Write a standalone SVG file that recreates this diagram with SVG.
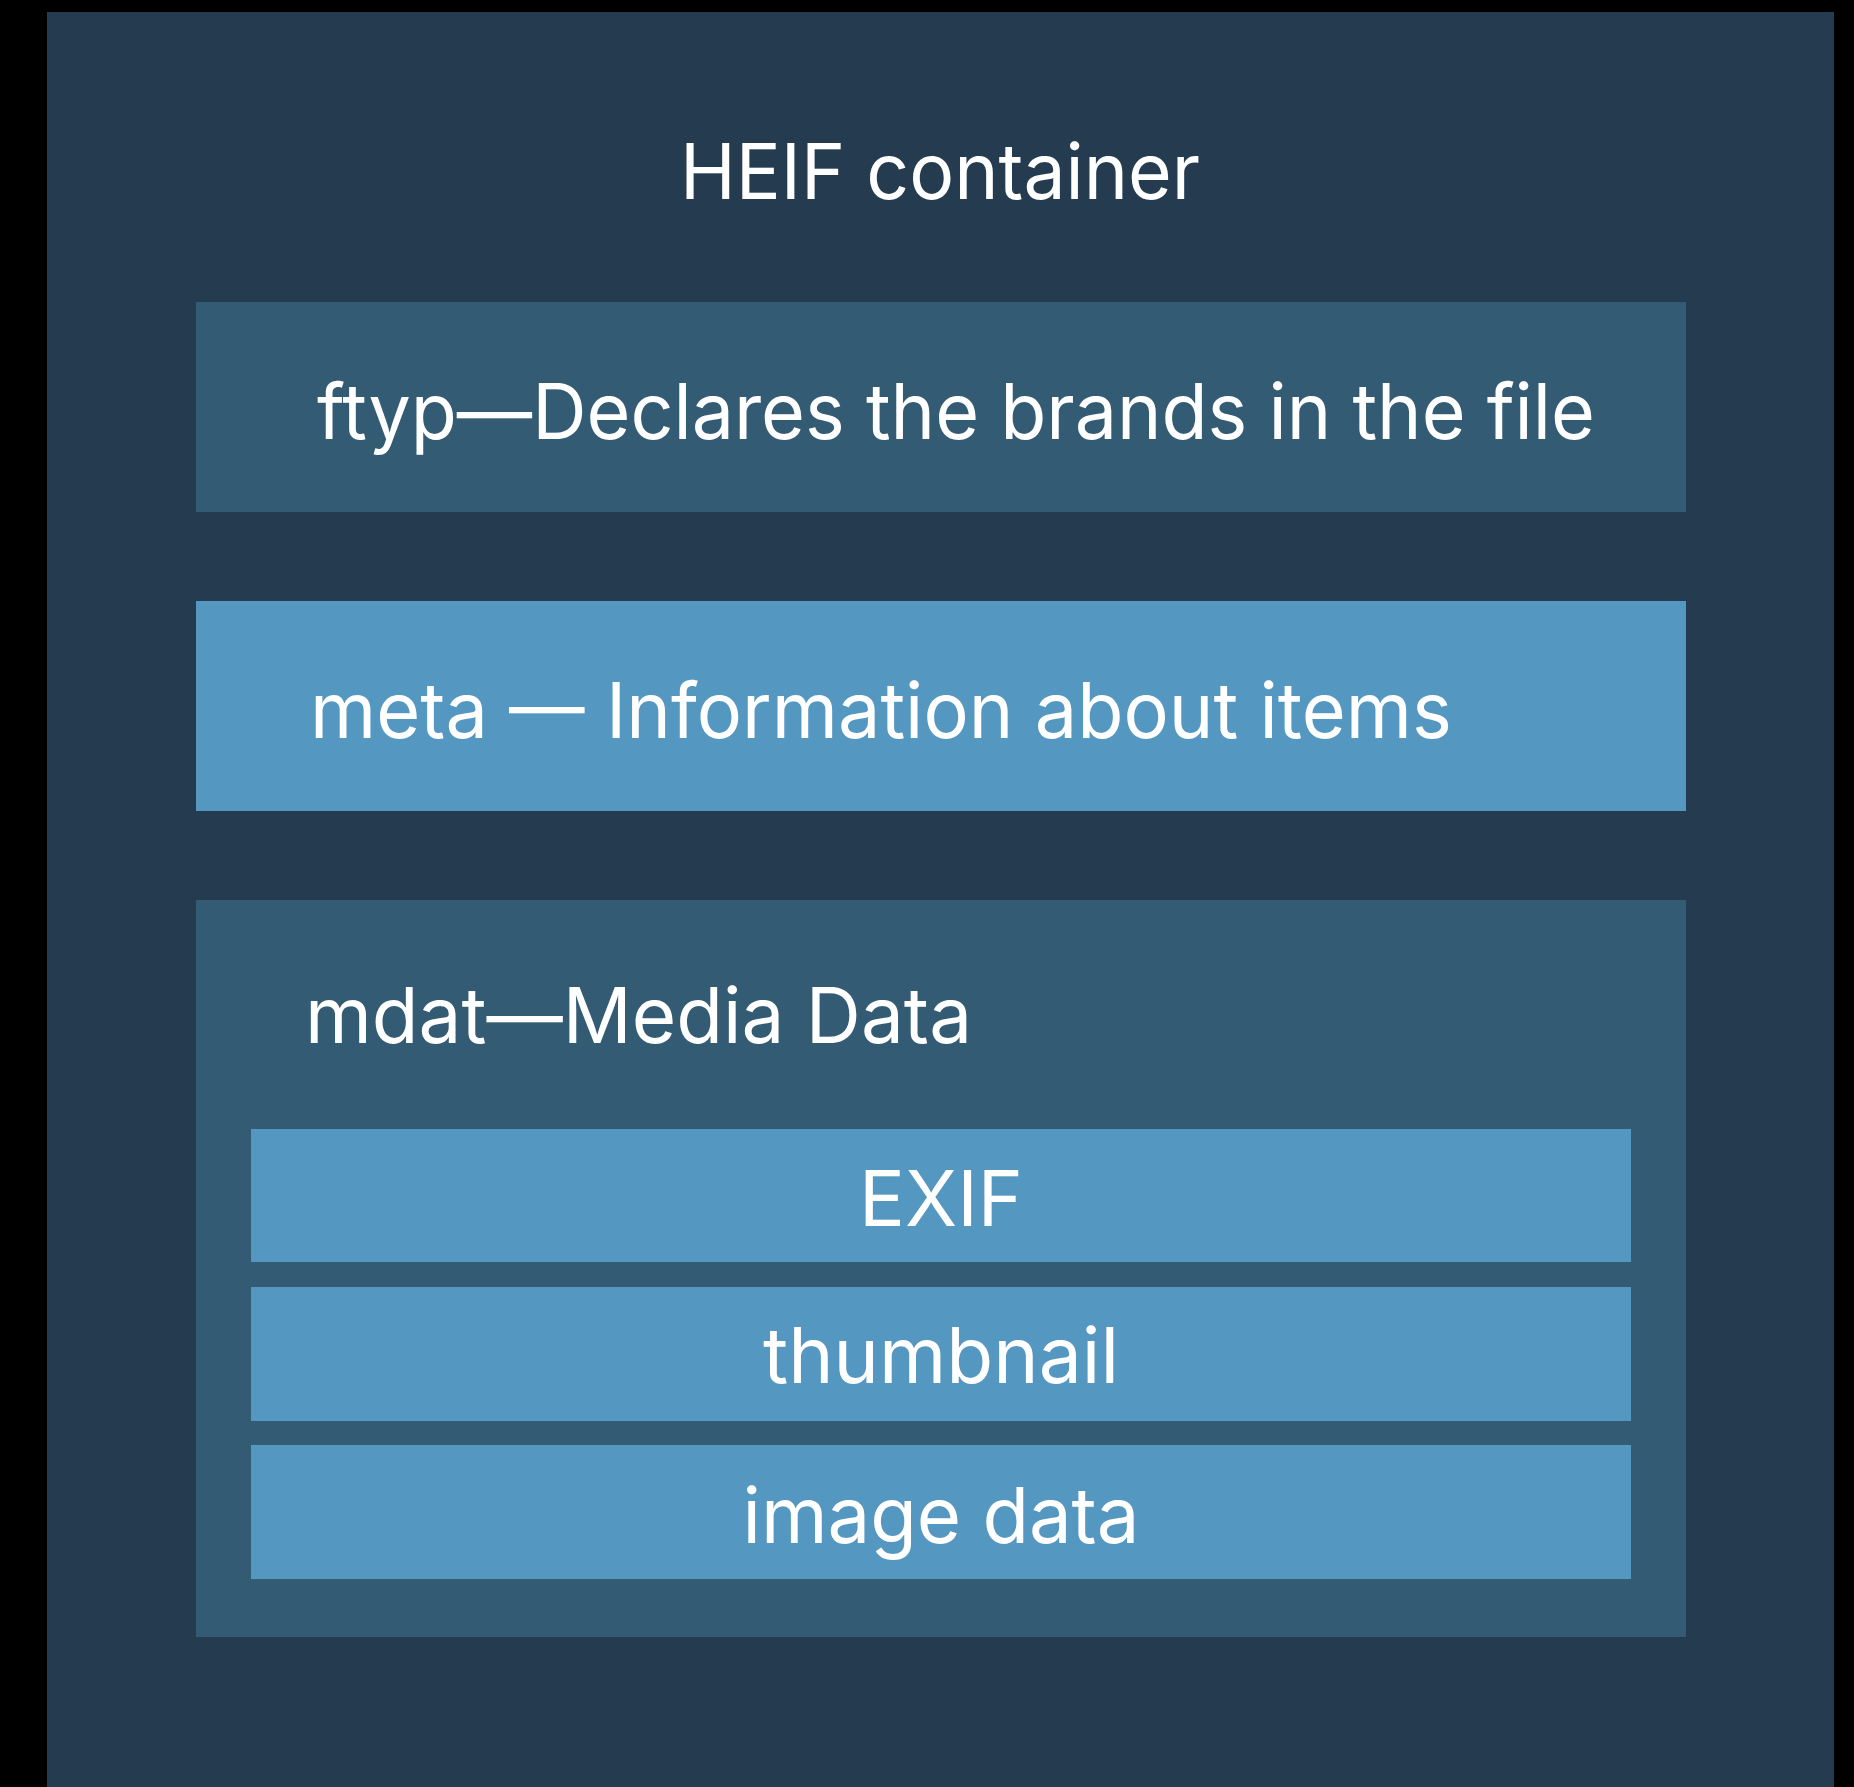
<svg xmlns="http://www.w3.org/2000/svg" width="1854" height="1787" viewBox="0 0 1854 1787">
<style>
.bg{fill:#000}
.outer{fill:#243b50}
.mid{fill:#345b74}
.light{fill:#5497c1}
text{font-family:Inter,"Liberation Sans",sans-serif;fill:#fff;font-size:77px}
.c{text-anchor:middle}
</style>
<rect class="bg" x="0" y="0" width="1854" height="1787"/>
<g id="heif-container">
<rect class="outer" x="47" y="12" width="1787" height="1775"/>
<text class="c" x="940" y="199" textLength="520" lengthAdjust="spacingAndGlyphs">HEIF container</text>
</g>
<g id="ftyp">
<rect class="mid" x="196" y="302" width="1490" height="210"/>
<text x="317" y="439" textLength="1278" lengthAdjust="spacingAndGlyphs">ftyp—Declares the brands in the file</text>
</g>
<g id="meta">
<rect class="light" x="196" y="601" width="1490" height="210"/>
<text x="310" y="738" textLength="1142" lengthAdjust="spacingAndGlyphs">meta — Information about items</text>
</g>
<g id="mdat">
<rect class="mid" x="196" y="900" width="1490" height="737"/>
<text x="305" y="1043" textLength="667" lengthAdjust="spacingAndGlyphs">mdat—Media Data</text>
</g>
<g id="exif">
<rect class="light" x="251" y="1129" width="1380" height="133"/>
<text class="c" x="941" y="1226" textLength="164" lengthAdjust="spacingAndGlyphs">EXIF</text>
</g>
<g id="thumbnail">
<rect class="light" x="251" y="1287" width="1380" height="134"/>
<text class="c" x="941" y="1383" textLength="356" lengthAdjust="spacingAndGlyphs">thumbnail</text>
</g>
<g id="image-data">
<rect class="light" x="251" y="1445" width="1380" height="134"/>
<text class="c" x="941" y="1543" textLength="397" lengthAdjust="spacingAndGlyphs">image data</text>
</g>
<g id="connectors"></g>
</svg>
